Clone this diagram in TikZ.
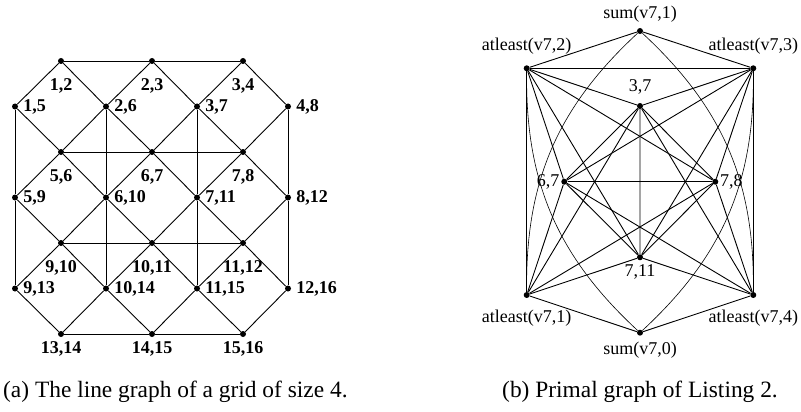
\documentclass[tikz,border=0pt]{standalone}
\usepackage{fontspec}
\setmainfont{Liberation Serif}
\usetikzlibrary{positioning}
\tikzset{
  dot/.style  = {circle, fill, inner sep=0pt, minimum size=6pt},
  edge/.style = {line width=0.9pt},
  curv/.style = {line width=0.6pt},
  lbl/.style  = {font=\fontsize{18}{18}\selectfont, inner sep=0pt},
  blbl/.style = {font=\fontsize{18}{18}\selectfont\bfseries, inner sep=0pt},
  capt/.style = {font=\fontsize{23.4}{23.4}\selectfont, inner sep=0pt}
}

\begin{document}
\begin{tikzpicture}[x=1pt, y=-1pt]
  \useasboundingbox (0,0) rectangle (801,412);

  % ── (a) line graph of the 4x4 grid ───────────────────────────────────────
  % horizontal grid edges i,i+1
  \foreach \r in {0,...,3} {
    \foreach \c in {0,1,2} {
      \pgfmathtruncatemacro\ia{4*\r+\c+1}
      \pgfmathtruncatemacro\ib{\ia+1}
      \pgfmathsetmacro\dd{\r<3 ? 14 : 4}
      \node[dot, label={[blbl, label distance=\dd pt]below:{\ia,\ib}}]
        (h\ia) at ({61+91*\c},{61+91*\r}) {};
    }
  }
  % vertical grid edges i,i+4
  \foreach \r in {0,1,2} {
    \foreach \c in {0,...,3} {
      \pgfmathtruncatemacro\ia{4*\r+\c+1}
      \pgfmathtruncatemacro\ib{\ia+4}
      \node[dot, label={[blbl, label distance=5pt]right:{\ia,\ib}}]
        (v\ia) at ({15+91*\c},{106.5+91*\r}) {};
    }
  }

  % edges sharing a grid vertex
  \foreach \r in {0,...,3} {
    \pgfmathtruncatemacro\ia{4*\r+1}
    \pgfmathtruncatemacro\ib{4*\r+2}
    \pgfmathtruncatemacro\ic{4*\r+3}
    \draw[edge] (h\ia) -- (h\ib);
    \draw[edge] (h\ib) -- (h\ic);
  }
  \foreach \c in {1,...,4} {
    \pgfmathtruncatemacro\ib{\c+4}
    \pgfmathtruncatemacro\ic{\c+8}
    \draw[edge] (v\c) -- (v\ib);
    \draw[edge] (v\ib) -- (v\ic);
  }
  % one diamond per grid cell
  \foreach \r in {0,1,2} {
    \foreach \c in {0,1,2} {
      \pgfmathtruncatemacro\ia{4*\r+\c+1}
      \pgfmathtruncatemacro\ib{\ia+1}
      \pgfmathtruncatemacro\ic{\ia+4}
      \draw[edge] (h\ia) -- (v\ia);
      \draw[edge] (h\ia) -- (v\ib);
      \draw[edge] (h\ic) -- (v\ia);
      \draw[edge] (h\ic) -- (v\ib);
    }
  }

  \node[capt, anchor=base west] (capa) at (3,397)
    {(a) The line graph of a grid of size 4.};

  % ── (b) primal graph ─────────────────────────────────────────────────────
  \node[dot, label={[lbl, label distance=5pt]above:sum(v7,1)}]       (s1) at (640,31) {};
  \node[dot, label={[lbl, label distance=11pt]above:atleast(v7,2)}]  (a2) at (526.7,68.3) {};
  \node[dot, label={[lbl, label distance=11pt]above:atleast(v7,3)}]  (a3) at (753.3,68.3) {};
  \node[dot, label={[lbl, label distance=8pt]above:{3,7}}]           (x37) at (640,106) {};
  \node[dot, label={[lbl, label distance=1.5pt]left:{6,7}}]          (x67) at (564.3,181.7) {};
  \node[dot, label={[lbl, label distance=1.5pt]right:{7,8}}]         (x78) at (715.3,181.7) {};
  \node[dot, label={[lbl, label distance=4pt]below:{7,11}}]          (x711) at (640,257.3) {};
  \node[dot, label={[lbl, label distance=12pt]below:atleast(v7,1)}]  (a1) at (526.7,295) {};
  \node[dot, label={[lbl, label distance=12pt]below:atleast(v7,4)}]  (a4) at (753.3,295) {};
  \node[dot, label={[lbl, label distance=6pt]below:sum(v7,0)}]       (s0) at (640,332.7) {};

  % sums and the atleast chain
  \draw[edge] (a2) -- (s1) -- (a3);
  \draw[edge] (a1) -- (s0) -- (a4);
  \draw[edge] (a1) -- (a2) -- (a3) -- (a4);
  \draw[curv] (s1) to[bend right=24] (a1);
  \draw[curv] (s1) to[bend left=24] (a4);
  \draw[curv] (a2) to[bend right=24] (s0);
  \draw[curv] (a3) to[bend left=24] (s0);

  % edge variables of vertex 7
  \foreach \x in {x37,x67,x78,x711} {
    \foreach \y in {a1,a2,a3,a4} {
      \draw[edge] (\x) -- (\y);
    }
  }
  \draw[edge] (x37) -- (x67) -- (x711) -- (x78) -- (x37) -- (x711);
  \draw[edge] (x67) -- (x78);

  \node[capt, anchor=base] (capb) at (640,397) {(b) Primal graph of Listing 2.};

\end{tikzpicture}
\end{document}
